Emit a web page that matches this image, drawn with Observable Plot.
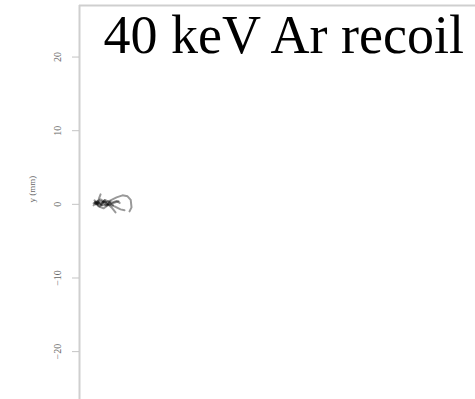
<!DOCTYPE html>
<html><head><meta charset="utf-8">
<script src="https://cdn.jsdelivr.net/npm/d3@7"></script>
<script src="https://cdn.jsdelivr.net/npm/@observablehq/plot@0.6"></script>
<style>body{margin:0;background:#fff;overflow:hidden}</style>
</head><body><div id="chart"></div>
<script>
const title = "40 keV Ar recoil";
const yLabel = "y (mm)";
const yTicks = [-20, -10, 0, 10, 20];
const xDomain = [-2.45, 51.3];
const yDomain = [-26.5, 27];
// recoil tracks (mm)
const trackA_x = [-0.27, 0.41, 1.09, 1.76, 2.58, 3.39, 4.07, 4.5, 4.61, 4.34];
const trackA_y = [0, 0.41, 0.27, 0.54, 0.95, 1.22, 1.09, 0.6, -0.41, -0.95];
const trackB_x = [-0.14, 0.68, 1.49, 2.31, 3.12, 3.66];
const trackB_y = [0.14, -0.14, 0, -0.27, -0.68, -0.81];
const trackC_x = [0, 0.2, 0.41];
const trackC_y = [0, 0.8, 1.36];
const trackD_x = [-0.41, 0.14, 0.81, 1.36, 2.04, 2.85];
const trackD_y = [0.54, -0.27, -0.54, -0.14, 0.14, 0.41];
const trackE_x = [-0.54, 0.41, 1.22, 1.9, 2.44];
const trackE_y = [0.14, 0.68, 0.14, -0.41, -1.09];
const trackF_x = [-0.54, 0, 0.54, 0.95, 1.36, 1.76];
const trackF_y = [-0.14, 0.41, -0.14, 0.54, 0, 0.41];
const trackG_x = [-0.4, 0.3, 0.7, 1.2, 1.6, 2.1];
const trackG_y = [0.2, -0.3, 0.3, -0.2, 0.25, -0.1];
const trackH_x = [-0.3, 0.5, 1.0, 1.8, 2.6, 3.0];
const trackH_y = [0.35, 0.1, 0.6, 0.2, 0.45, 0.2];

const tracks = [["A",trackA_x,trackA_y],["B",trackB_x,trackB_y],["C",trackC_x,trackC_y],
  ["D",trackD_x,trackD_y],["E",trackE_x,trackE_y],["F",trackF_x,trackF_y],
  ["G",trackG_x,trackG_y],["H",trackH_x,trackH_y]];
const pts = tracks.flatMap(([id, xs, ys]) => xs.map((x, i) => ({id, x, y: ys[i]})));

const chart = Plot.plot({
  width: 475, height: 399,
  marginLeft: 79, marginTop: 5, marginRight: 0, marginBottom: 0,
  style: {background: "#fff", overflow: "visible"},
  x: {domain: xDomain, axis: null},
  y: {domain: yDomain, axis: null},
  marks: [
    Plot.ruleY([yDomain[1]], {stroke: "#cfcfcf", strokeWidth: 2}),
    Plot.ruleX([xDomain[0]], {stroke: "#cfcfcf", strokeWidth: 2}),
    Plot.axisY({ticks: yTicks, tickSize: 7, tickPadding: 12, tickRotate: -90, label: null, stroke: "#c4c4c4", color: "#666", fontSize: 10, fontFamily: "Liberation Serif"}),
    Plot.line(pts, {x: "x", y: "y", z: "id", stroke: "#000", strokeOpacity: 0.4, strokeWidth: 2, strokeLinejoin: "round"}),
    Plot.text([yLabel], {frameAnchor: "left", dx: -47, rotate: -90, fontSize: 9, fontFamily: "Liberation Serif", fill: "#666"}),
    Plot.text([title], {frameAnchor: "top-left", dx: 24, dy: 9, textAnchor: "start", lineAnchor: "top", fontSize: 54, fontFamily: "Liberation Serif", fill: "#000"})
  ]
});
document.getElementById("chart").append(chart);
</script></body></html>
